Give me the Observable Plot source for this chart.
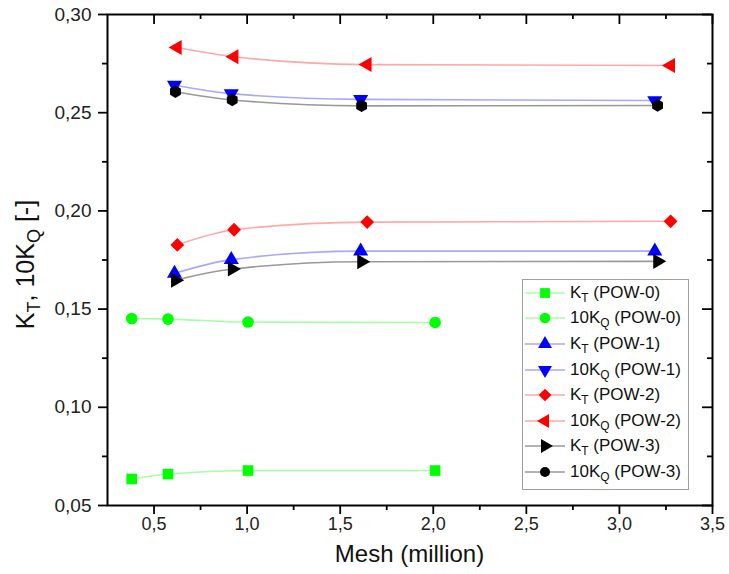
<!DOCTYPE html>
<html><head><meta charset="utf-8">
<script src="https://cdn.jsdelivr.net/npm/d3@7"></script>
<script src="https://cdn.jsdelivr.net/npm/@observablehq/plot@0.6"></script>
<style>
body{margin:0;background:#fff;font-family:"Liberation Sans",Arial,sans-serif;}
#wrap{position:relative;width:729px;height:574px;}
#legend{position:absolute;left:522px;top:279px;width:167px;height:211px;border:1px solid #a0a0a0;background:#fff;box-sizing:border-box;padding-top:0px}
.row{display:flex;align-items:center;height:25.6px;font-size:17px;color:#111;white-space:nowrap}
.row svg{margin-left:2px;margin-right:5px;flex:none}
.row sub{font-size:70%;vertical-align:-4px;line-height:0}
</style></head><body><div id="wrap"></div>
<script>
// ---- data ----
const meshPOW0 = [0.38, 0.575, 1.005, 2.01];
const ktPOW0   = [0.0635, 0.0660, 0.0678, 0.0678];
const kqPOW0   = [0.1452, 0.1449, 0.1434, 0.1432];
const meshPOW1 = [0.61, 0.915, 1.61, 3.19];
const ktPOW1   = [0.1682, 0.1752, 0.1795, 0.1795];
const kqPOW1   = [0.2640, 0.2597, 0.2568, 0.2562];
const meshPOW2 = [0.625, 0.93, 1.645, 3.275];
const ktPOW2   = [0.1827, 0.1904, 0.1943, 0.1947];
const kqPOW2   = [0.2832, 0.2785, 0.2745, 0.2740];
const meshPOW3 = [0.615, 0.92, 1.615, 3.205];
const ktPOW3   = [0.1647, 0.1704, 0.1741, 0.1743];
const kqPOW3   = [0.2607, 0.2565, 0.2535, 0.2537];

const xMajor = [0.5, 1.0, 1.5, 2.0, 2.5, 3.0, 3.5];
const xMinor = [0.75, 1.25, 1.75, 2.25, 2.75, 3.25];
const yMajor = [0.05, 0.10, 0.15, 0.20, 0.25, 0.30];
const yMinor = [0.075, 0.125, 0.175, 0.225, 0.275];

const legendMain = ["K","10K","K","10K","K","10K","K","10K"];
const legendSub  = ["T","Q","T","Q","T","Q","T","Q"];
const legendTail = [" (POW-0)"," (POW-0)"," (POW-1)"," (POW-1)"," (POW-2)"," (POW-2)"," (POW-3)"," (POW-3)"];

const series = [
  {mesh: meshPOW0, vals: ktPOW0, line: "#a8ffa8", fill: "#00ff00", symbol: "square",   rotate: 0,   r: 6.0},
  {mesh: meshPOW0, vals: kqPOW0, line: "#a8ffa8", fill: "#00ff00", symbol: "circle",   rotate: 0,   r: 5.8},
  {mesh: meshPOW1, vals: ktPOW1, line: "#a8a8ff", fill: "#0000ff", symbol: "triangle", rotate: 0,   r: 5.6},
  {mesh: meshPOW1, vals: kqPOW1, line: "#a8a8ff", fill: "#0000ff", symbol: "triangle", rotate: 180, r: 5.6},
  {mesh: meshPOW2, vals: ktPOW2, line: "#ffa8a8", fill: "#ff0000", symbol: "diamond2", rotate: 0,   r: 6.2},
  {mesh: meshPOW2, vals: kqPOW2, line: "#ffa8a8", fill: "#ff0000", symbol: "triangle", rotate: -90, r: 5.6},
  {mesh: meshPOW3, vals: ktPOW3, line: "#999999", fill: "#000000", symbol: "triangle", rotate: 90,  r: 5.6},
  {mesh: meshPOW3, vals: kqPOW3, line: "#999999", fill: "#000000", symbol: "hexagon",  rotate: 0,   r: 5.4}
];

const comma2 = d => d.toFixed(2).replace(".", ",");
const comma1 = d => d.toFixed(1).replace(".", ",");

const W = 729, H = 574, mL = 107, mR = 17, mT = 14, mB = 69;
const innerW = W - mL - mR, innerH = H - mT - mB;

const marks = [];
series.forEach(s => {
  const data = s.mesh.map((m, i) => ({x: m, y: s.vals[i]}));
  marks.push(Plot.line(data, {x: "x", y: "y", stroke: s.line, strokeWidth: 1.6, curve: "monotone-x"}));
});
series.forEach(s => {
  const data = s.mesh.map((m, i) => ({x: m, y: s.vals[i]}));
  marks.push(Plot.dot(data, {x: "x", y: "y", symbol: s.symbol, fill: s.fill, stroke: "none", r: s.r, rotate: s.rotate}));
});

const axisStyle = {stroke: "#000", strokeWidth: 1.8, label: null};
marks.push(
  Plot.axisX(xMajor, {...axisStyle, tickSize: 9, tickPadding: 3, tickFormat: comma1, fontSize: 18}),
  Plot.axisX(xMinor, {...axisStyle, tickSize: 5, tickFormat: () => ""}),
  Plot.axisY(yMajor, {...axisStyle, tickSize: 9, tickPadding: 7, tickFormat: comma2, fontSize: 19}),
  Plot.axisY(yMinor, {...axisStyle, tickSize: 5, tickFormat: () => ""}),
  Plot.tickX(xMajor, {x: d => d, insetBottom: innerH - 10, stroke: "#000", strokeWidth: 1.8}),
  Plot.tickX(xMinor, {x: d => d, insetBottom: innerH - 5, stroke: "#000", strokeWidth: 1.8}),
  Plot.tickY(yMajor, {y: d => d, insetLeft: innerW - 10, stroke: "#000", strokeWidth: 1.8}),
  Plot.tickY(yMinor, {y: d => d, insetLeft: innerW - 5, stroke: "#000", strokeWidth: 1.8}),
  Plot.frame({stroke: "#000", strokeWidth: 2})
);

const plot = Plot.plot({
  width: W, height: H,
  marginLeft: mL, marginRight: mR, marginTop: mT, marginBottom: mB,
  x: {domain: [0.25, 3.5], label: null},
  y: {domain: [0.05, 0.30], label: null},
  style: {fontFamily: "'Liberation Sans', Arial, sans-serif", fontSize: "19px", background: "#fff", color: "#222"},
  marks
});

const svg = d3.select(plot);
// x title
svg.append("text").attr("x", mL + innerW / 2).attr("y", 562).attr("text-anchor", "middle")
  .style("font-size", "24px").attr("fill", "#111").text("Mesh (million)");
// y title with subscripts
const yt = svg.append("text").attr("transform", `translate(34,${mT + innerH / 2 + 5}) rotate(-90)`)
  .attr("text-anchor", "middle").style("font-size", "25px").attr("fill", "#111");
yt.append("tspan").text("K");
yt.append("tspan").attr("dy", 6).style("font-size", "18px").text("T");
yt.append("tspan").attr("dy", -6).text(", 10K");
yt.append("tspan").attr("dy", 6).style("font-size", "18px").text("Q");
yt.append("tspan").attr("dy", -6).text(" [-]");

const wrap = document.getElementById("wrap");
wrap.appendChild(plot);

// legend
const legend = document.createElement("div");
legend.id = "legend";
series.forEach((s, i) => {
  const row = document.createElement("div");
  row.className = "row";
  const ns = "http://www.w3.org/2000/svg";
  const sv = document.createElementNS(ns, "svg");
  sv.setAttribute("width", 40); sv.setAttribute("height", 20);
  const ln = document.createElementNS(ns, "line");
  ln.setAttribute("x1", 0); ln.setAttribute("x2", 40); ln.setAttribute("y1", 10); ln.setAttribute("y2", 10);
  ln.setAttribute("stroke", s.line); ln.setAttribute("stroke-width", 1.6);
  sv.appendChild(ln);
  const symMap = {square: d3.symbolSquare, circle: d3.symbolCircle, triangle: d3.symbolTriangle, diamond2: d3.symbolDiamond2, hexagon: d3.symbolHexagon};
  const p = document.createElementNS(ns, "path");
  p.setAttribute("d", d3.symbol(symMap[s.symbol], Math.PI * s.r * s.r * 0.85)());
  p.setAttribute("transform", `translate(20,10) rotate(${s.rotate})`);
  p.setAttribute("fill", s.fill);
  sv.appendChild(p);
  row.appendChild(sv);
  const t = document.createElement("span");
  t.innerHTML = `${legendMain[i]}<sub>${legendSub[i]}</sub>${legendTail[i]}`;
  row.appendChild(t);
  legend.appendChild(row);
});
wrap.appendChild(legend);
</script>
</body></html>
